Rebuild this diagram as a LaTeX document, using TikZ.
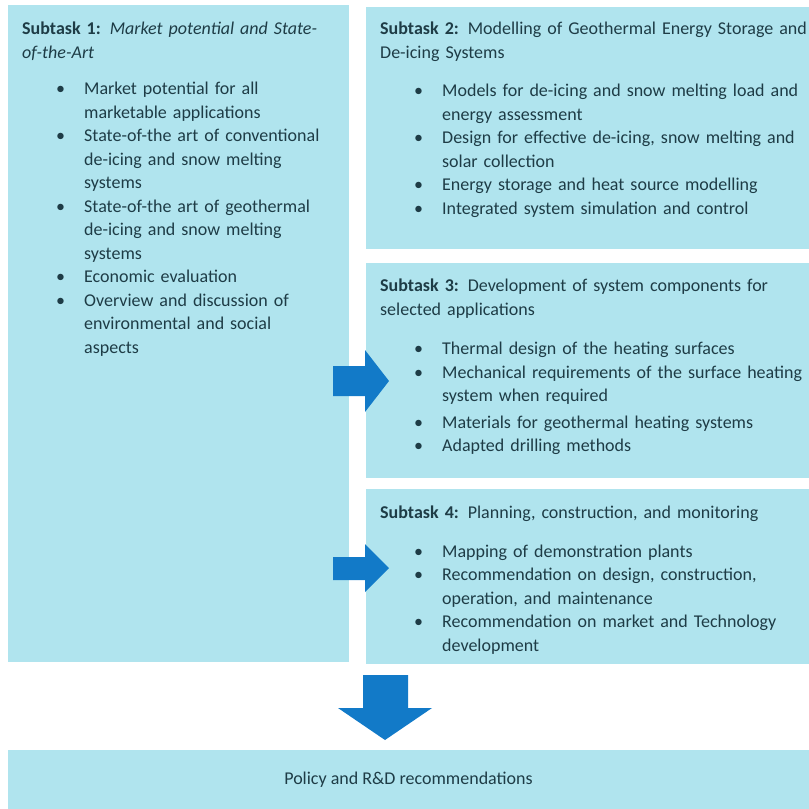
\documentclass[tikz,border=0pt]{standalone}
\usepackage{fontspec}
\setmainfont{Carlito}
\usetikzlibrary{positioning}

\definecolor{boxcyan}{RGB}{176,228,238}
\definecolor{arrowblue}{RGB}{18,122,200}
\definecolor{inkteal}{RGB}{30,60,70}

\newenvironment{tasklist}[1][15pt]{\begin{list}{\textbullet}{%
  \setlength{\leftmargin}{62pt}\setlength{\labelsep}{19pt}%
  \setlength{\labelwidth}{43pt}\setlength{\itemsep}{0pt}%
  \setlength{\parsep}{0pt}\setlength{\topsep}{#1}\setlength{\partopsep}{0pt}}}%
  {\end{list}}

\tikzset{
  taskbox/.style={fill=boxcyan, draw=none, inner sep=0, outer sep=0},
  tasktext/.style={anchor=north west, inner sep=0, align=left, text=inkteal,
    font=\fontsize{18}{23.5}\selectfont},
  blockarrow/.style={fill=arrowblue, draw=none}
}

\begin{document}
\begin{tikzpicture}[x=1pt,y=1pt,yscale=-1,xscale=1]
        \useasboundingbox (0,0) rectangle (809,809);

        % Boxes
        \node [taskbox, minimum width=341, minimum height=657] (st1) at (178.5,333.5) {};
        \node [taskbox, minimum width=443, minimum height=242] (st2) at (587.5,128) {};
        \node [taskbox, minimum width=443, minimum height=215] (st3) at (587.5,370.5) {};
        \node [taskbox, minimum width=443, minimum height=175] (st4) at (587.5,576.5) {};
        \node [taskbox, minimum width=801, minimum height=59] (policy) at (408.5,779.5) {};

        % Subtask 1
        \node [tasktext, text width=330] (st1txt) at (22,22) {%
          \textbf{Subtask 1:} \textit{Market potential and State-}\\
          \textit{of-the-Art}
          \begin{tasklist}[13pt]
            \item Market potential for all\\ marketable applications
            \item State-of-the art of conventional\\ de-icing and snow melting\\ systems
            \item State-of-the art of geothermal\\ de-icing and snow melting\\ systems
            \item Economic evaluation
            \item Overview and discussion of\\ environmental and social\\ aspects
          \end{tasklist}};

        % Subtask 2
        \node [tasktext, text width=440] (st2txt) at (380,22) {%
          \textbf{Subtask 2:} Modelling of Geothermal Energy Storage and\\
          De-icing Systems
          \begin{tasklist}
            \item Models for de-icing and snow melting load and\\ energy assessment
            \item Design for effective de-icing, snow melting and\\ solar collection
            \item Energy storage and heat source modelling
            \item Integrated system simulation and control
          \end{tasklist}};

        % Subtask 3
        \node [tasktext, text width=440] (st3txt) at (380,279) {%
          \textbf{Subtask 3:} Development of system components for\\
          selected applications
          \begin{tasklist}[16pt]
            \item Thermal design of the heating surfaces
            \item Mechanical requirements of the surface heating\\ system when required
            \vspace{3pt}
            \item Materials for geothermal heating systems
            \item Adapted drilling methods
          \end{tasklist}};

        % Subtask 4
        \node [tasktext, text width=440] (st4txt) at (380,506) {%
          \textbf{Subtask 4:} Planning, construction, and monitoring
          \begin{tasklist}
            \item Mapping of demonstration plants
            \item Recommendation on design, construction,\\ operation, and maintenance
            \item Recommendation on market and Technology\\ development
          \end{tasklist}};

        % Policy
        \node [text=inkteal, font=\fontsize{18}{23.5}\selectfont] (policytxt) at (policy.center) {Policy and R\&D recommendations};

        % Arrows
        \fill [blockarrow] (333,366) -- (365,366) -- (365,350) -- (389,381) -- (365,412) -- (365,396) -- (333,396) -- cycle;
        \fill [blockarrow] (333,557) -- (365,557) -- (365,544) -- (389,568) -- (365,592) -- (365,580) -- (333,580) -- cycle;
        \fill [blockarrow] (363,675) -- (408,675) -- (408,708) -- (432,708) -- (385,740) -- (338,708) -- (363,708) -- cycle;

\end{tikzpicture}
\end{document}
